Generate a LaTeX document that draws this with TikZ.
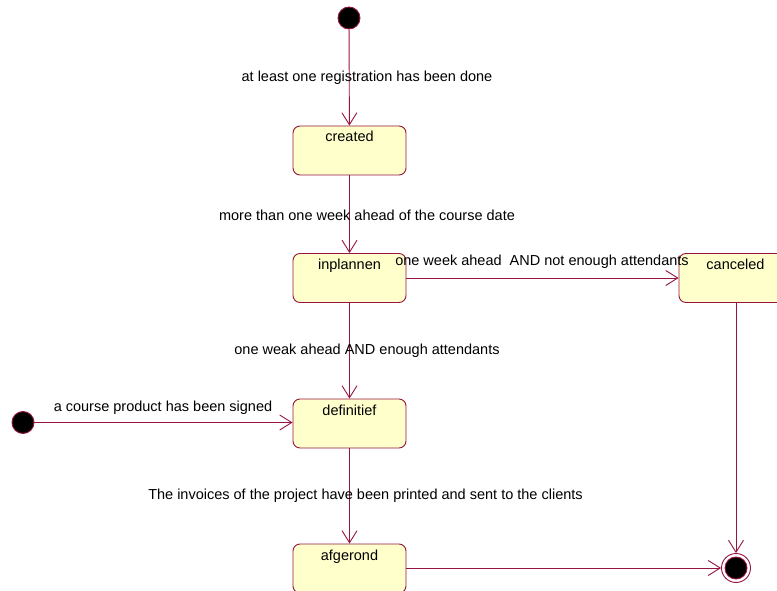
\documentclass[tikz,border=0pt]{standalone}
\usepackage{fontspec}
\setmainfont{Liberation Sans}
\usetikzlibrary{arrows.meta}
\definecolor{umlline}{RGB}{150,20,65}
\definecolor{umlfill}{RGB}{255,255,204}
\tikzset{
  stateblock/.style={draw=umlline, fill=umlfill, line width=0.9pt, rounded corners=7pt,
    minimum width=113pt, inner xsep=0pt, inner ysep=0pt,
    text height=16pt, text depth=33pt, font=\fontsize{14.5}{16}\selectfont},
  initial/.style={circle, draw=umlline, fill=black, line width=0.9pt, minimum size=22pt, inner sep=0pt},
  finalring/.style={circle, draw=umlline, fill=white, line width=0.9pt, minimum size=29pt, inner sep=0pt},
  finaldot/.style={circle, draw=umlline, fill=black, line width=0.9pt, minimum size=22pt, inner sep=0pt},
  trans/.style={draw=umlline, line width=0.9pt, -{Straight Barb[length=12pt,width=15pt,line width=0.9pt]}},
  guard/.style={inner sep=0pt, font=\fontsize{14.5}{16}\selectfont}
}
\begin{document}
\begin{tikzpicture}[x=1pt, y=-1pt]
  \useasboundingbox (0,0) rectangle (777,591);
  \clip (0,0) rectangle (777,591);

  % states
  \node[stateblock] (created)    at (349.5,150.5) {created};
  \node[stateblock] (inplannen)  at (349.5,278)   {inplannen};
  \node[stateblock] (definitief) at (349.5,423.5) {definitief};
  \node[stateblock] (afgerond)   at (349.5,568.5) {afgerond};
  \node[stateblock] (canceled)   at (735.5,278)   {canceled};

  % pseudo states
  \node[initial] (start)  at (349,18)  {};
  \node[initial] (start2) at (23,422.5) {};
  \node[finalring] (finish) at (736,568) {};
  \node[finaldot]  (finishdot) at (736,568) {};

  % transitions
  \draw[trans] (start) -- (created);
  \draw[trans] (created) -- (inplannen);
  \draw[trans] (inplannen) -- (canceled);
  \draw[trans] (inplannen) -- (definitief);
  \draw[trans] (start2) -- (definitief.west |- start2);
  \draw[trans] (definitief) -- (afgerond);
  \draw[trans] (canceled.south -| finish) -- (finish);
  \draw[trans] (afgerond.east |- finish) -- (finish);

  % guards
  \node[guard] (g1) at (367,78)  {at least one registration has been done};
  \node[guard] (g2) at (367,215) {more than one week ahead of the course date};
  \node[guard] (g3) at (542,262) {one week ahead\ \ AND not enough attendants};
  \node[guard] (g4) at (367,351) {one weak ahead AND enough attendants};
  \node[guard] (g5) at (163,408) {a course product has been signed};
  \node[guard] (g6) at (365.5,496) {The invoices of the project have been printed and sent to the clients};
\end{tikzpicture}
\end{document}
